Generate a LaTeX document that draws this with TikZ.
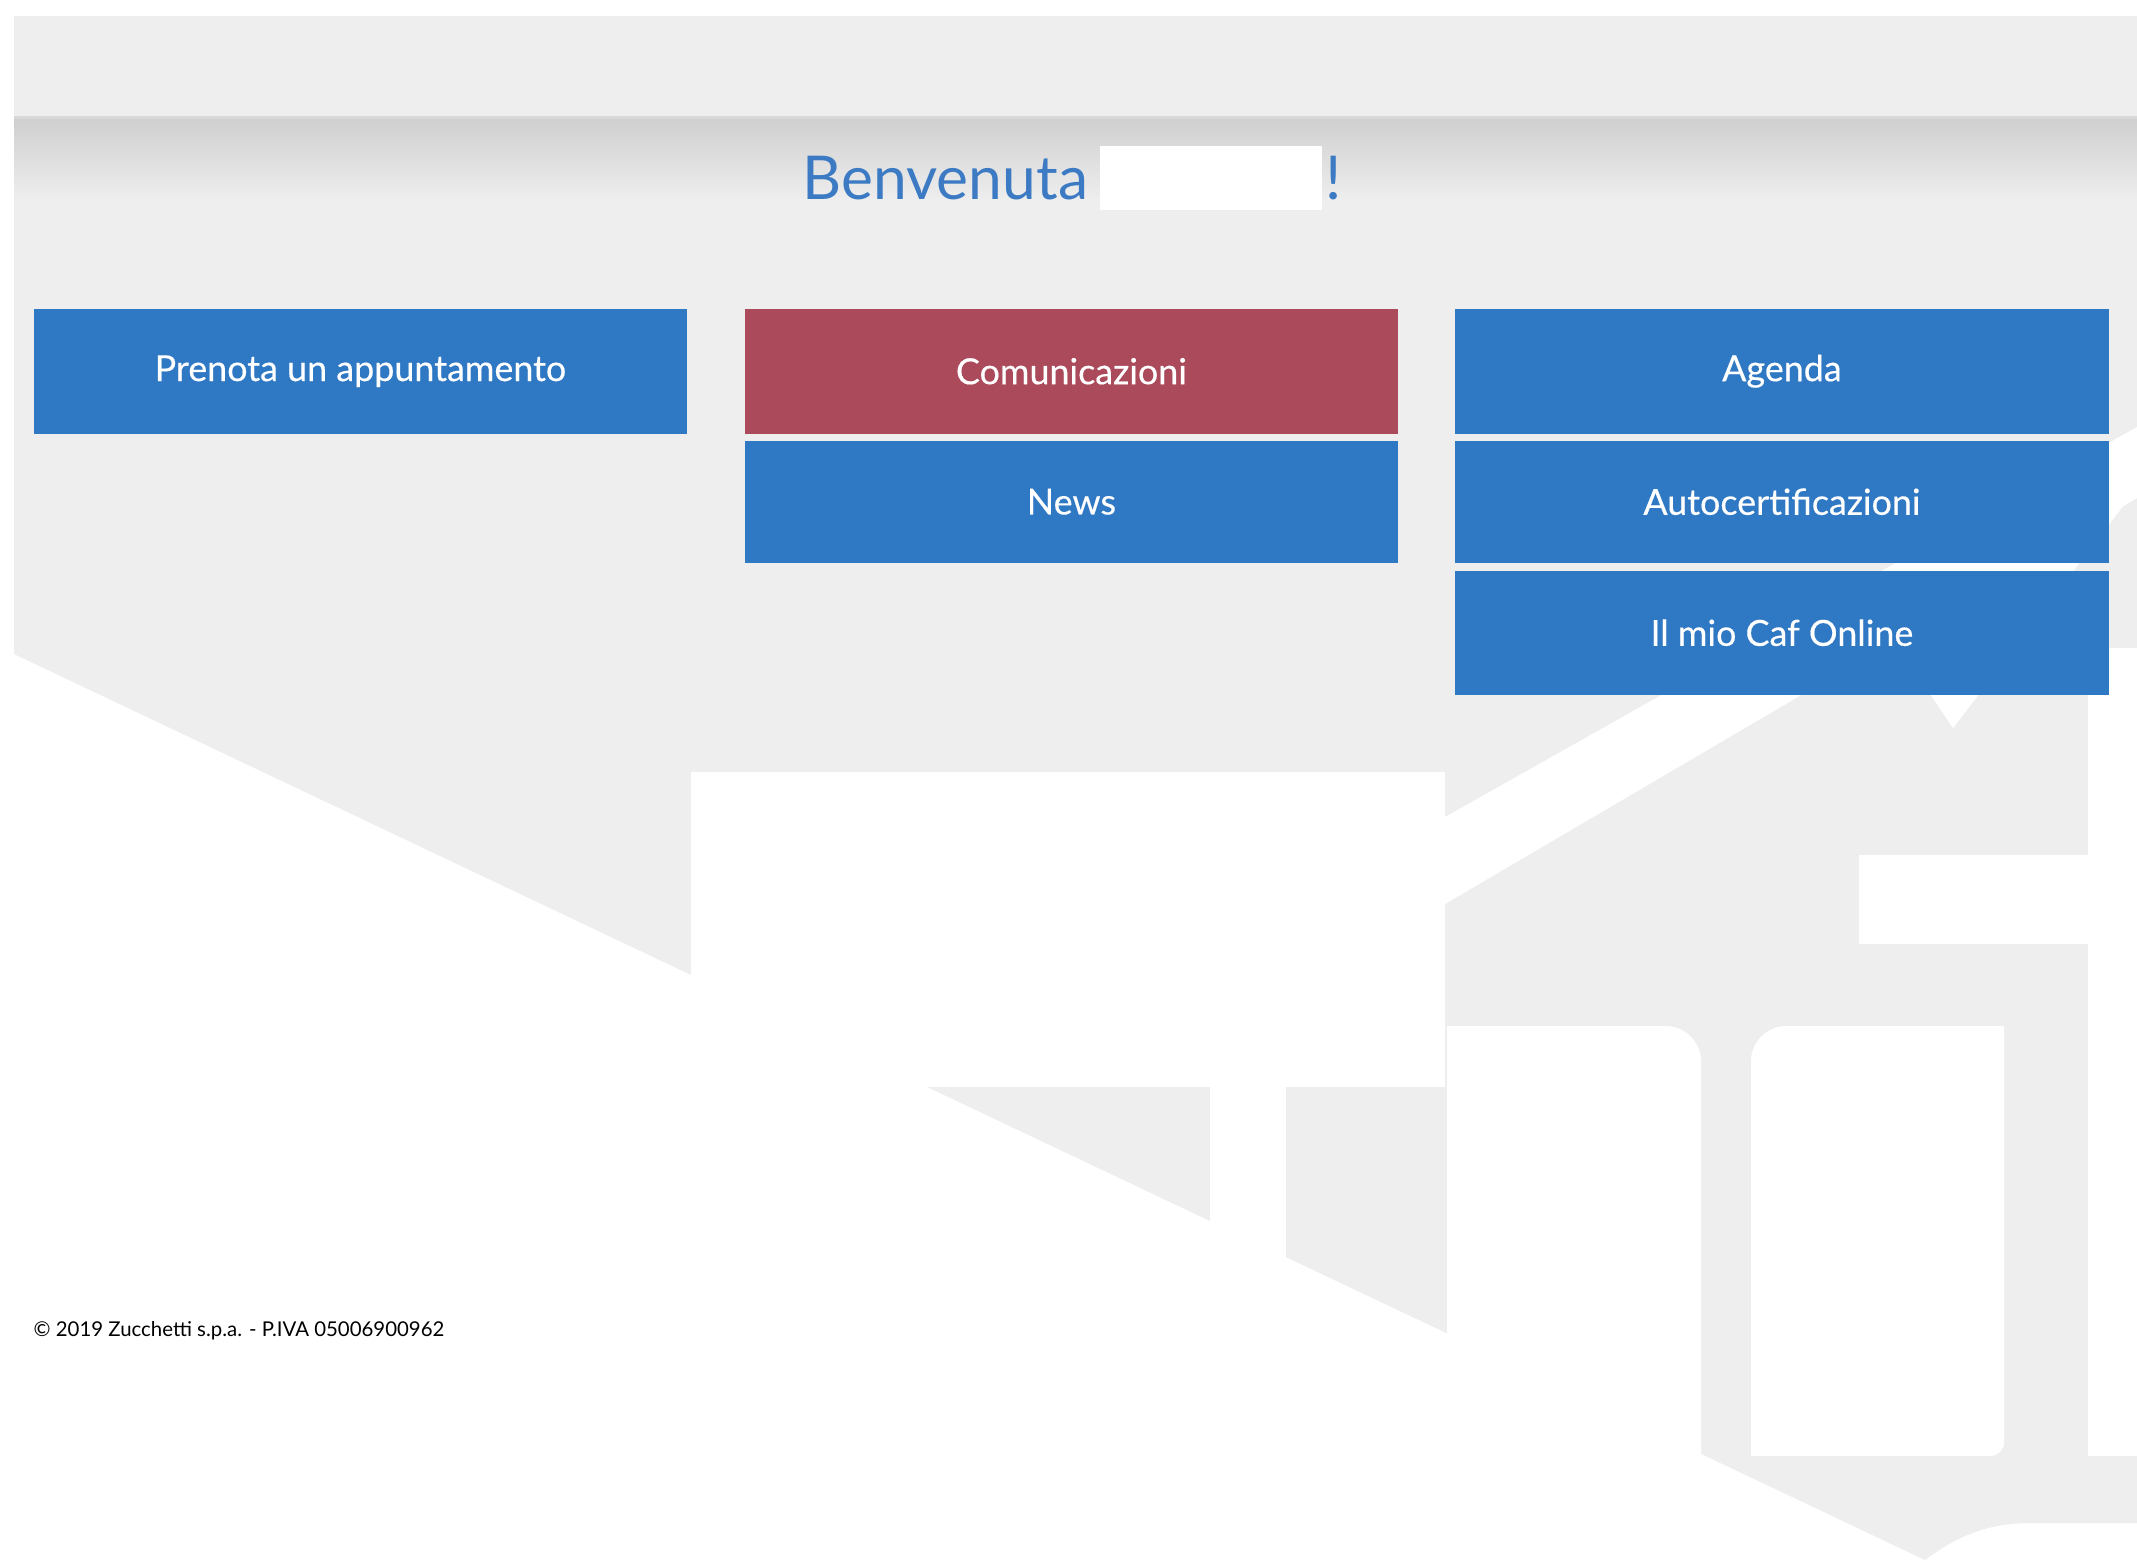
\documentclass[tikz,border=0pt]{standalone}
\usepackage{fontspec}
\newfontfamily\lato{Lato}
\newfontfamily\latobtn{Lato}[FakeBold=0.35]
\definecolor{pagegray}{HTML}{EEEEEE}
\definecolor{shadowgray}{HTML}{CFCFCF}
\definecolor{btnblue}{HTML}{2F78C3}
\definecolor{btnred}{HTML}{AB4A5A}
\definecolor{titleblue}{HTML}{3C7BC4}
\tikzset{
  btn/.style={fill=btnblue, draw=none, text=white, font=\latobtn\fontsize{10.2}{12}\selectfont},
  btnalt/.style={btn, fill=btnred},
  whiteshape/.style={fill=white, draw=none},
  titletext/.style={anchor=base west, inner sep=0, text=titleblue, font=\lato\fontsize{17.2}{20}\selectfont},
}
\begin{document}
\begin{tikzpicture}[x=0.01cm,y=-0.01cm]
\useasboundingbox (0,0) rectangle (2137,1560);
\fill[white] (0,0) rectangle (2137,1560);
% page body
\fill[pagegray] (14,16) -- (2137,16) -- (2137,1523) -- (2030,1523)
  .. controls (1990,1523) and (1958,1535) .. (1925,1560) -- (14,654) -- cycle;
% header shadow
\shade[top color=shadowgray, bottom color=pagegray] (14,118) rectangle (2137,200);
\fill[shadowgray!70!pagegray] (14,116) rectangle (2137,119);
% logo white shapes
\fill[whiteshape] (691,772) rectangle (1445,1087);
\fill[whiteshape] (1210,1080) rectangle (1286,1300);
\fill[whiteshape] (1445,817) -- (2137,427) -- (2137,498) -- (1445,904) -- cycle;
\fill[whiteshape] (1880,620) -- (1953,728) -- (2137,488) -- (2137,430) -- cycle;
\fill[whiteshape] (1447,1480) -- (1447,1026) -- (1666,1026)
  .. controls (1685,1026) and (1701,1042) .. (1701,1061) -- (1701,1480) -- cycle;
\fill[whiteshape] (1751,1456) -- (1751,1061)
  .. controls (1751,1042) and (1767,1026) .. (1786,1026) -- (2004,1026) -- (2004,1442)
  .. controls (2004,1450) and (1998,1456) .. (1990,1456) -- cycle;
\fill[whiteshape] (1859,855) rectangle (2137,944);
\fill[whiteshape] (2088,648) rectangle (2137,1456);
% title
\node[titletext] (title) at (802,199) {Benvenuta};
\fill[white] (1100,146) rectangle (1322,210);
\node[titletext] (excl) at (1325,199) {!};
% buttons
\node[btn, minimum width=6.53cm, minimum height=1.25cm, anchor=north west] (prenota) at (33,308) {Prenota un appuntamento};
\node[btnalt, minimum width=6.53cm, minimum height=1.25cm, anchor=north west] (comun) at (744,308) {Comunicazioni};
\node[btn, minimum width=6.53cm, minimum height=1.22cm, anchor=north west] (news) at (744,440) {News};
\node[btn, minimum width=6.54cm, minimum height=1.25cm, anchor=north west] (agenda) at (1454,308) {Agenda};
\node[btn, minimum width=6.54cm, minimum height=1.22cm, anchor=north west] (autocert) at (1454,440) {Autocertificazioni};
\node[btn, minimum width=6.54cm, minimum height=1.24cm, anchor=north west] (caf) at (1454,570) {Il mio Caf Online};
% footer
\node[anchor=base west, inner sep=0, text=black, font=\lato\fontsize{5.8}{7}\selectfont] (footer) at (33,1336) {\textcopyright\ 2019 Zucchetti s.p.a. - P.IVA 05006900962};
\end{tikzpicture}
\end{document}
